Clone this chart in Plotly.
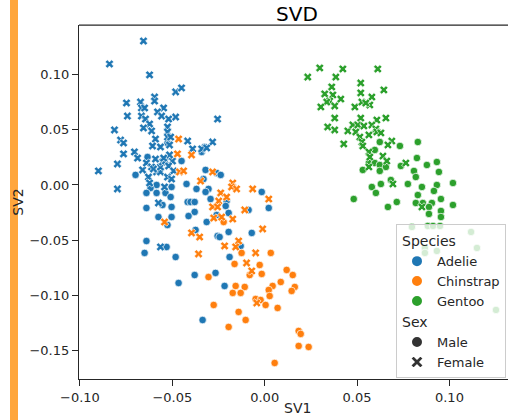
import plotly.graph_objects as go

# ---------------- data ----------------
adelie_female_sv1 = [-0.0656, -0.0840, -0.0623, -0.0482, -0.0450, -0.0748, -0.0672, -0.0596, -0.0596, -0.0667,
                     -0.0650, -0.0547, -0.0580, -0.0743, -0.0667, -0.0645, -0.0623, -0.0558, -0.0520, -0.0482,
                     -0.0813, -0.0656, -0.0612, -0.0526, -0.0526, -0.0255, -0.0780, -0.0764, -0.0591, -0.0526,
                     -0.0509, -0.0417, -0.0282, -0.0764, -0.0705, -0.0688, -0.0661, -0.0640, -0.0612, -0.0585,
                     -0.0564, -0.0629, -0.0564, -0.0553, -0.0537, -0.0499, -0.0520, -0.0493, -0.0564, -0.0515,
                     -0.0390, -0.0341, -0.0314, -0.0900, -0.0797, -0.0797, -0.0607, -0.0515, -0.0591, -0.0547,
                     -0.0602, -0.0526, -0.0504, -0.0623, -0.0542, -0.0575, -0.0564]
adelie_female_sv2 = [0.1303, 0.1095, 0.0996, 0.0842, 0.0878, 0.0742, 0.0751, 0.0796, 0.0760, 0.0697,
                     0.0697, 0.0697, 0.0661, 0.0624, 0.0624, 0.0597, 0.0552, 0.0624, 0.0597, 0.0615,
                     0.0498, 0.0516, 0.0489, 0.0525, 0.0480, 0.0597, 0.0407, 0.0380, 0.0416, 0.0434,
                     0.0434, 0.0398, 0.0389, 0.0281, 0.0299, 0.0244, 0.0136, 0.0199, 0.0163, 0.0118,
                     0.0118, 0.0072, 0.0163, 0.0208, 0.0217, 0.0217, 0.0172, 0.0127, 0.0344, 0.0272,
                     0.0326, 0.0326, 0.0335, 0.0127, 0.0190, -0.0036, 0.0353, 0.0362, 0.0235, 0.0244,
                     0.0145, 0.0072, 0.0054, 0.0018, -0.0018, -0.0163, -0.0561]

adelie_male_sv1 = [-0.0526, -0.0634, -0.0699, -0.0450, -0.0341, -0.0325, -0.0585, -0.0618, -0.0585, -0.0640,
                   -0.0504, -0.0537, -0.0509, -0.0553, -0.0640, -0.0504, -0.0575, -0.0504, -0.0526, -0.0423,
                   -0.0369, -0.0331, -0.0304, -0.0320, -0.0293, -0.0417, -0.0401, -0.0379, -0.0379, -0.0412,
                   -0.0314, -0.0374, -0.0640, -0.0650, -0.0531, -0.0482, -0.0255, -0.0320, -0.0260, -0.0238,
                   -0.0206, -0.0211, -0.0195, -0.0087, -0.0016, 0.0022, -0.0260, -0.0195, -0.0244, -0.0070,
                   -0.0130, -0.0190, -0.0379, -0.0266, -0.0466, -0.0217, -0.0336]
adelie_male_sv2 = [0.0380, 0.0253, 0.0091, 0.0217, 0.0299, 0.0344, 0.0000, -0.0027, -0.0072, -0.0072,
                   -0.0018, -0.0072, -0.0109, -0.0181, -0.0208, -0.0199, -0.0290, -0.0290, -0.0362, 0.0009,
                   -0.0036, 0.0054, -0.0036, -0.0063, -0.0127, -0.0154, -0.0154, -0.0154, -0.0244, -0.0281,
                   -0.0335, -0.0407, -0.0507, -0.0615, -0.0561, -0.0652, -0.0462, 0.0136, 0.0109, 0.0091,
                   -0.0145, -0.0190, -0.0253, -0.0226, -0.0063, -0.0208, -0.0272, -0.0425, -0.0471, -0.0434,
                   -0.0552, -0.0652, -0.0815, -0.0796, -0.0887, -0.0914, -0.1222]

chinstrap_female_sv1 = [-0.0466, -0.0472, -0.0396, -0.0461, -0.0439, -0.0347, -0.0282, -0.0173, -0.0179, -0.0152,
                        -0.0065, -0.0238, -0.0206, -0.0249, -0.0282, -0.0255, -0.0276, -0.0233, -0.0173, -0.0108,
                        0.0022, -0.0011, -0.0141, -0.0157, -0.0217, -0.0049, -0.0542, -0.0396, -0.0352, -0.0358,
                        -0.0098, -0.0070, -0.0043]
chinstrap_female_sv2 = [0.0416, 0.0281, 0.0272, 0.0118, 0.0127, 0.0036, 0.0118, 0.0018, -0.0018, -0.0036,
                        -0.0036, -0.0072, -0.0109, -0.0145, -0.0199, -0.0199, -0.0299, -0.0290, -0.0308, -0.0226,
                        -0.0127, -0.0398, -0.0507, -0.0561, -0.0552, -0.0615, -0.0335, -0.0434, -0.0471, -0.0624,
                        -0.0706, -0.0778, -0.1068]

chinstrap_male_sv1 = [-0.0222, -0.0125, 0.0033, -0.0163, -0.0027, -0.0304, -0.0081, -0.0016, 0.0119, 0.0152,
                      -0.0157, -0.0108, -0.0173, -0.0130, 0.0043, 0.0087, 0.0163, 0.0022, 0.0146, 0.0027,
                      -0.0049, -0.0022, 0.0005, 0.0070, -0.0276, -0.0141, -0.0103, -0.0195, 0.0184, 0.0195,
                      0.0184, 0.0238, 0.0054]
chinstrap_male_sv2 = [-0.0335, -0.0615, -0.0615, -0.0715, -0.0724, -0.0833, -0.0815, -0.0805, -0.0769, -0.0815,
                      -0.0914, -0.0923, -0.0977, -0.0977, -0.0914, -0.0878, -0.0923, -0.0950, -0.0959, -0.1005,
                      -0.1032, -0.1041, -0.1086, -0.1113, -0.1086, -0.1149, -0.1222, -0.1285, -0.1321, -0.1348,
                      -0.1457, -0.1466, -0.1611]

gentoo_female_sv1 = [0.0298, 0.0423, 0.0612, 0.0233, 0.0385, 0.0520, 0.0363, 0.0520, 0.0645, 0.0325,
                     0.0369, 0.0412, 0.0352, 0.0336, 0.0379, 0.0304, 0.0488, 0.0526, 0.0569, 0.0580,
                     0.0547, 0.0379, 0.0520, 0.0607, 0.0656, 0.0341, 0.0379, 0.0450, 0.0477, 0.0504,
                     0.0537, 0.0580, 0.0493, 0.0602, 0.0607, 0.0629, 0.0564, 0.0515, 0.0526, 0.0531,
                     0.0428, 0.0688, 0.0667, 0.0564, 0.0569, 0.0640, 0.0661, 0.0764, 0.0564, 0.0694,
                     0.0851]
gentoo_female_sv2 = [0.1059, 0.1050, 0.1050, 0.0977, 0.0977, 0.0923, 0.0887, 0.0833, 0.0860, 0.0824,
                     0.0815, 0.0778, 0.0760, 0.0751, 0.0715, 0.0706, 0.0706, 0.0751, 0.0724, 0.0796,
                     0.0742, 0.0606, 0.0606, 0.0588, 0.0606, 0.0525, 0.0498, 0.0489, 0.0543, 0.0543,
                     0.0534, 0.0543, 0.0480, 0.0507, 0.0480, 0.0471, 0.0453, 0.0434, 0.0389, 0.0353,
                     0.0371, 0.0398, 0.0362, 0.0299, 0.0253, 0.0262, 0.0217, 0.0199, 0.0163, 0.0009,
                     -0.0199]

gentoo_male_sv1 = [0.0623, 0.0732, 0.0829, 0.0596, 0.0564, 0.0596, 0.0623, 0.0656, 0.0531, 0.0623,
                   0.0737, 0.0824, 0.0878, 0.0932, 0.0808, 0.0943, 0.0818, 0.0683, 0.0775, 0.0629,
                   0.0580, 0.0851, 0.0932, 0.1019, 0.0916, 0.0602, 0.0829, 0.0954, 0.0482, 0.0667,
                   0.0715, 0.0818, 0.0856, 0.0905, 0.0889, 0.1019, 0.0889, 0.0954, 0.0954, 0.0797,
                   0.0883, 0.0911, 0.0949, 0.1117, 0.1149, 0.0867, 0.0867, 0.0932, 0.1252]
gentoo_male_sv2 = [0.0389, 0.0353, 0.0389, 0.0317, 0.0199, 0.0199, 0.0181, 0.0163, 0.0136, 0.0127,
                   0.0172, 0.0244, 0.0181, 0.0208, 0.0127, 0.0118, 0.0072, 0.0045, 0.0009, 0.0009,
                   -0.0018, -0.0018, 0.0000, 0.0018, -0.0054, -0.0072, -0.0091, -0.0127, -0.0127, -0.0199,
                   -0.0154, -0.0163, -0.0163, -0.0163, -0.0199, -0.0181, -0.0262, -0.0235, -0.0290, -0.0380,
                   -0.0371, -0.0371, -0.0371, -0.0425, -0.0570, -0.0570, -0.0615, -0.0597, -0.1131]

species = ["Adelie", "Chinstrap", "Gentoo"]
species_colors = ["#1f77b4", "#ff7f0e", "#2ca02c"]
sexes = ["Male", "Female"]
sex_symbols = ["circle", "x"]

x_tickvals = [-0.10, -0.05, 0.00, 0.05, 0.10]
x_ticktext = ["\u22120.10", "\u22120.05", "0.00", "0.05", "0.10"]
y_tickvals = [-0.15, -0.10, -0.05, 0.00, 0.05, 0.10]
y_ticktext = ["\u22120.15", "\u22120.10", "\u22120.05", "0.00", "0.05", "0.10"]

groups = [
    ("Adelie", "Male", adelie_male_sv1, adelie_male_sv2),
    ("Adelie", "Female", adelie_female_sv1, adelie_female_sv2),
    ("Chinstrap", "Male", chinstrap_male_sv1, chinstrap_male_sv2),
    ("Chinstrap", "Female", chinstrap_female_sv1, chinstrap_female_sv2),
    ("Gentoo", "Male", gentoo_male_sv1, gentoo_male_sv2),
    ("Gentoo", "Female", gentoo_female_sv1, gentoo_female_sv2),
]

TXT = "#262626"
FONT = "DejaVu Sans"

fig = go.Figure()
for sp, sx, xs, ys in groups:
    fig.add_trace(go.Scatter(
        x=xs, y=ys, mode="markers", showlegend=False,
        marker=dict(color=species_colors[species.index(sp)],
                    symbol=sex_symbols[sexes.index(sx)], size=7.5,
                    line=dict(color="white", width=0.7)),
    ))

# legend entries
for i, sp in enumerate(species):
    fig.add_trace(go.Scatter(
        x=[None], y=[None], mode="markers", name=sp,
        legendgroup="species",
        legendgrouptitle=dict(text="Species" if i == 0 else None, font=dict(size=14, color=TXT, family=FONT)),
        marker=dict(color=species_colors[i], symbol="circle", size=8, line=dict(color="white", width=0.5)),
    ))
for i, sx in enumerate(sexes):
    fig.add_trace(go.Scatter(
        x=[None], y=[None], mode="markers", name=sx,
        legendgroup="sex",
        legendgrouptitle=dict(text="Sex" if i == 0 else None, font=dict(size=14, color=TXT, family=FONT)),
        marker=dict(color="#333333", symbol=sex_symbols[i], size=8, line=dict(color="white", width=0.5)),
    ))

W, H = 508, 420
ML, MT, MB = 79, 25, 41
PW, PH = W - ML, H - MT - MB

fig.update_layout(
    width=W, height=H,
    margin=dict(l=ML, r=0, t=MT, b=MB, pad=0),
    paper_bgcolor="white", plot_bgcolor="white",
    font=dict(family=FONT, size=13, color=TXT),
    title=dict(text="SVD", x=297 / W, xref="container", xanchor="center",
               y=1 - 14 / H, yref="container", yanchor="middle",
               font=dict(size=20, color="black", family=FONT)),
    xaxis=dict(range=[-0.1005, 0.1317], tickvals=x_tickvals, ticktext=x_ticktext,
               showgrid=False, zeroline=False, showline=True, linecolor=TXT, linewidth=1.25,
               ticks="outside", ticklen=6, tickwidth=1.25, tickcolor=TXT,
               tickfont=dict(size=13, color=TXT),
               automargin=False),
    yaxis=dict(range=[-0.1756, 0.1448], tickvals=y_tickvals, ticktext=y_ticktext,
               showgrid=False, zeroline=False, showline=True, linecolor=TXT, linewidth=1.25,
               ticks="outside", ticklen=6, tickwidth=1.25, tickcolor=TXT,
               tickfont=dict(size=13, color=TXT),
               title=dict(text="SV2", font=dict(size=14, color=TXT), standoff=2),
               automargin=False),
    annotations=[
        dict(text="SV1", xref="paper", yref="paper", x=(297 - ML) / PW, y=-(408 - MT - PH) / PH,
             xanchor="center", yanchor="middle", showarrow=False,
             font=dict(size=14, color=TXT, family=FONT)),
    ],
    legend=dict(x=(396 - ML) / PW, y=1 - (224 - MT) / PH, xanchor="left", yanchor="top",
                bgcolor="rgba(255,255,255,0.8)", bordercolor="#cccccc", borderwidth=1,
                font=dict(size=13, color=TXT, family=FONT), tracegroupgap=0,
                traceorder="grouped", itemsizing="constant"),
    shapes=[
        dict(type="rect", xref="paper", yref="paper",
             x0=(10 - ML) / PW, x1=(18 - ML) / PW, y0=-MB / PH, y1=1 + MT / PH,
             fillcolor="#FFA63C", line=dict(width=0), layer="above"),
        dict(type="line", xref="paper", yref="paper", x0=0, x1=1, y0=1, y1=1,
             line=dict(color=TXT, width=1.25)),
    ],
)

fig.write_html("out.html", config={"displayModeBar": False})
